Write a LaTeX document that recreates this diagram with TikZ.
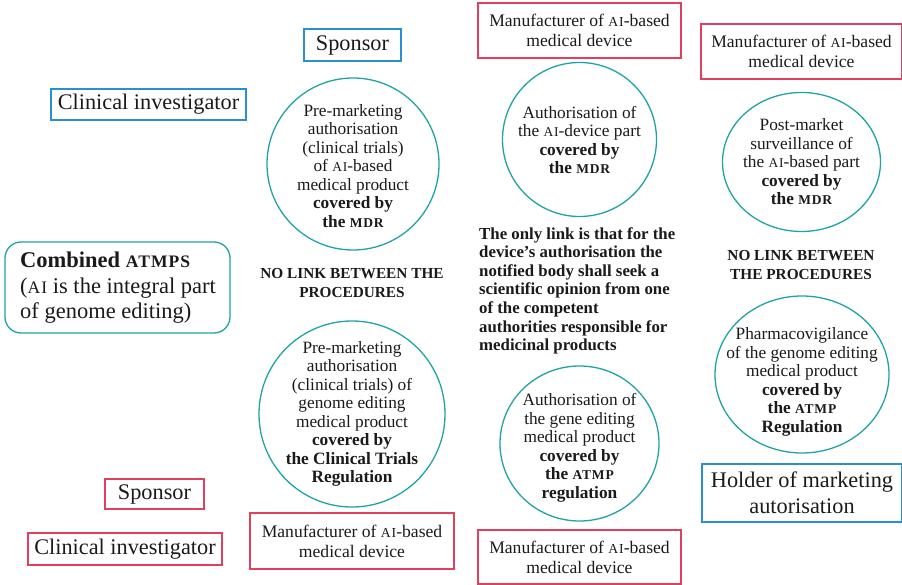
\documentclass[tikz,border=0pt]{standalone}
\usepackage{graphicx}
\usepackage{fontspec}
\setmainfont{Liberation Serif}
\usetikzlibrary{shapes.geometric}
\definecolor{teal1}{HTML}{1FA3A3}
\definecolor{blue1}{HTML}{2A8ED2}
\definecolor{red1}{HTML}{E0405E}
\definecolor{ink}{HTML}{1A1A1A}
\newcommand\bsc[1]{\scalebox{0.78}{\addfontfeature{LetterSpace=6}#1}}
\begin{document}
\begin{tikzpicture}[x=1pt,y=-1pt,
  every node/.style={text=ink},
  ring/.style={circle,draw=teal1,line width=1.3pt,inner sep=0pt},
  oval/.style={ellipse,draw=teal1,line width=1.3pt,inner sep=0pt},
  ctext/.style={align=center,inner sep=0pt,font=\fontsize{17.3}{18.5}\selectfont},
  bbox/.style={rectangle,draw=blue1,line width=1.3pt,align=center,inner sep=1pt,font=\fontsize{22.3}{26}\selectfont},
  rbox/.style={rectangle,draw=red1,line width=1.3pt,align=center,inner sep=1pt,font=\fontsize{22.3}{26}\selectfont},
  mbox/.style={rectangle,draw=red1,line width=1.3pt,align=center,inner sep=1pt,font=\fontsize{17.6}{20}\selectfont},
  nolink/.style={align=center,inner sep=0pt,font=\fontsize{15.3}{19}\selectfont\bfseries},
]
\useasboundingbox (0,0) rectangle (902,585);

% blue boxes
\node[bbox,minimum width=97pt,minimum height=32pt] (sp1) at (352.5,45) {Sponsor};
\node[bbox,minimum width=195pt,minimum height=31pt] (ci1) at (148.5,104.5) {Clinical investigator};
\node[bbox,minimum width=200pt,minimum height=58pt] (hold) at (802,493) {Holder of marketing\\autorisation};

% red boxes
\node[mbox,minimum width=203pt,minimum height=55pt] (m1) at (579.5,30.5) {Manufacturer of \bsc{AI}-based\\medical device};
\node[mbox,minimum width=201pt,minimum height=55pt] (m2) at (801.5,51.5) {Manufacturer of \bsc{AI}-based\\medical device};
\node[mbox,minimum width=204pt,minimum height=56pt] (m3) at (352,541) {Manufacturer of \bsc{AI}-based\\medical device};
\node[mbox,minimum width=203pt,minimum height=54pt] (m4) at (579.5,557) {Manufacturer of \bsc{AI}-based\\medical device};
\node[rbox,minimum width=99pt,minimum height=30pt] (sp2) at (154.5,494) {Sponsor};
\node[rbox,minimum width=194pt,minimum height=32pt] (ci2) at (125,549) {Clinical investigator};

% combined ATMPs box
\node[draw=teal1,line width=1.3pt,rounded corners=16pt,minimum width=225pt,minimum height=91pt,
      inner sep=0pt] (comb) at (117.5,287.5) {};
\node[align=left,anchor=west,inner sep=0pt,font=\fontsize{22.5}{25.5}\selectfont] (combt) at (20,288)
  {\textbf{Combined \bsc{ATMPS}}\\(\bsc{AI} is the integral part\\of genome editing)};

% circles
\node[ring,minimum size=172pt] (c1) at (353,164) {};
\node[ctext] (t1) at (353,166) {Pre-marketing\\authorisation\\(clinical trials)\\of \bsc{AI}-based\\medical product\\\textbf{covered by}\\\textbf{the \bsc{MDR}}};

\node[ring,minimum size=154pt] (c2) at (579.5,139.5) {};
\node[ctext] (t2) at (579.5,140) {Authorisation of\\the \bsc{AI}-device part\\\textbf{covered by}\\\textbf{the \bsc{MDR}}};

\node[oval,minimum width=158pt,minimum height=139pt] (c3) at (801.5,162) {};
\node[ctext] (t3) at (801.5,162) {Post-market\\surveillance of\\the \bsc{AI}-based part\\\textbf{covered by}\\\textbf{the \bsc{MDR}}};

\node[ring,minimum size=186pt] (c4) at (352,414) {};
\node[ctext] (t4) at (352,414) {Pre-marketing\\authorisation\\(clinical trials) of\\genome editing\\medical product\\\textbf{covered by}\\\textbf{the Clinical Trials}\\\textbf{Regulation}};

\node[oval,minimum width=159pt,minimum height=155pt] (c5) at (579.5,443.5) {};
\node[ctext] (t5) at (579.5,448) {Authorisation of\\the gene editing\\medical product\\\textbf{covered by}\\\textbf{the \bsc{ATMP}}\\\textbf{regulation}};

\node[oval,minimum width=174pt,minimum height=157pt] (c6) at (802,374.5) {};
\node[ctext] (t6) at (802,382) {Pharmacovigilance\\of the genome editing\\medical product\\\textbf{covered by}\\\textbf{the \bsc{ATMP}}\\\textbf{Regulation}};

% texts
\node[nolink] (nl1) at (352,283) {NO LINK BETWEEN THE\\PROCEDURES};
\node[nolink] (nl2) at (801,265) {NO LINK BETWEEN\\THE PROCEDURES};
\node[align=left,anchor=north west,inner sep=0pt,font=\fontsize{16.8}{18.6}\selectfont\bfseries] (para) at (479,227)
  {The only link is that for the\\device's authorisation the\\notified body shall seek a\\scientific opinion from one\\of the competent\\authorities responsible for\\medicinal products};
\end{tikzpicture}
\end{document}
